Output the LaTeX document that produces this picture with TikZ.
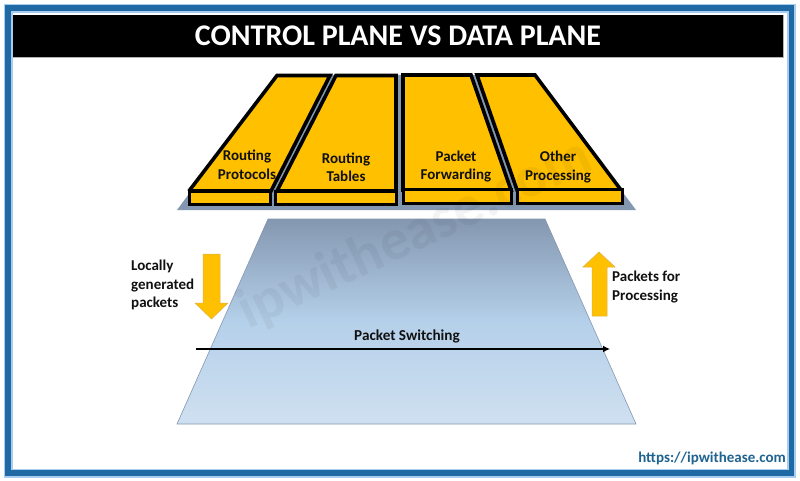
\documentclass[tikz,border=0pt]{standalone}
\usepackage{fontspec}
\setmainfont{Carlito}
\usetikzlibrary{arrows.meta}
\definecolor{amberfill}{HTML}{FFC000}
\definecolor{planegrey}{HTML}{8497B0}
\definecolor{planemid}{HTML}{B5D0EA}
\definecolor{planelow}{HTML}{CFE0F0}
\definecolor{arrowedge}{HTML}{D9B24A}
\definecolor{frameblue}{HTML}{1F6AA5}
\definecolor{framelight}{HTML}{A9CDEF}
\definecolor{urlblue}{HTML}{1F6391}
\definecolor{inktext}{HTML}{111111}
\tikzset{
  blade/.style={draw=black,fill=amberfill,line width=3.6pt,line join=miter,miter limit=2},
  lip/.style={draw=black,fill=amberfill,line width=3pt,line join=miter},
  bladetext/.style={font=\bfseries\fontsize{15}{18.5}\selectfont,text=inktext,align=center,inner sep=0pt},
  sidetext/.style={font=\bfseries\fontsize{15}{18.5}\selectfont,text=inktext,align=left,inner sep=0pt},
  bigarrow/.style={fill=amberfill,draw=arrowedge,line width=0.5pt,line join=miter},
}
\begin{document}
\begin{tikzpicture}[x=1pt,y=-1pt]
\useasboundingbox (0,0) rectangle (800,481);
\fill[white] (0,0) rectangle (800,481);
% frame
\draw[framelight,line width=9pt] (8.5,8.5) rectangle (791.5,473);
\draw[frameblue,line width=5.5pt] (8,8) rectangle (791.5,473);
% title
\fill[black!30] (13,15) rectangle (784,58);
\node[fill=black,text=white,minimum width=770,minimum height=42,inner sep=0pt,font=\bfseries\fontsize{30}{32}\selectfont,anchor=center] (title) at (398,36) {CONTROL PLANE VS DATA PLANE};
% control plane base
\fill[planegrey] (177,210) -- (277,75) -- (535,75) -- (636,210) -- cycle;
% data plane
\shade[top color=planegrey,bottom color=planelow,middle color=planemid] (268,219) -- (545,219) -- (636,424) -- (177,424) -- cycle;
\draw[planegrey,line width=0.6pt] (268,219) -- (545,219) -- (636,424) -- (177,424) -- cycle;
% blades
\draw[blade] (277,75.5) -- (330,75.5) -- (271,191) -- (189,191) -- cycle;
\draw[lip] (189,192) rectangle (270,205);
\draw[blade] (336,75.5) -- (396,75.5) -- (396,191) -- (277,191) -- cycle;
\draw[lip] (275,192) rectangle (396.5,205);
\draw[blade] (403,75) -- (471,75) -- (511,190) -- (403,190) -- cycle;
\draw[lip] (403,190) rectangle (511,204);
\draw[blade] (477,75) -- (535,75) -- (621,190) -- (517,190) -- cycle;
\draw[lip] (517,190) rectangle (622,204);
\node[bladetext] (rp) at (247,165) {Routing\\Protocols};
\node[bladetext] (rt) at (346,167.5) {Routing\\Tables};
\node[bladetext] (pf) at (456,166.5) {Packet\\Forwarding};
\node[bladetext] (op) at (558,167) {Other\\Processing};
% side arrows
\path[bigarrow] (203,254) -- (220,254) -- (220,303) -- (228,303) -- (211.5,319) -- (195,303) -- (203,303) -- cycle;
\path[bigarrow] (592,316) -- (607,316) -- (607,267) -- (615,267) -- (599,252) -- (583,267) -- (592,267) -- cycle;
\node[sidetext,anchor=west] (lg) at (131,285) {Locally\\generated\\packets};
\node[sidetext,anchor=west] (pp) at (612,287) {Packets for\\Processing};
% switching arrow
\coordinate (swa) at (196,349);
\coordinate (swb) at (610,349);
\draw[black,line width=2.2pt,-{Latex[length=7pt,width=7pt]}] (swa) -- (swb);
\node[font=\bfseries\fontsize{15.2}{16}\selectfont,text=inktext,inner sep=0pt] (ps) at (407,336.5) {Packet Switching};
\node[font=\bfseries\fontsize{15}{17}\selectfont,text=urlblue,inner sep=0pt,anchor=east] (url) at (786,458) {https://ipwithease.com};
% watermark
\node[rotate=25,opacity=0.045,text=black,font=\bfseries\fontsize{58}{58}\selectfont,inner sep=0pt] (mark) at (415,235) {ipwithease.com};
\end{tikzpicture}
\end{document}
